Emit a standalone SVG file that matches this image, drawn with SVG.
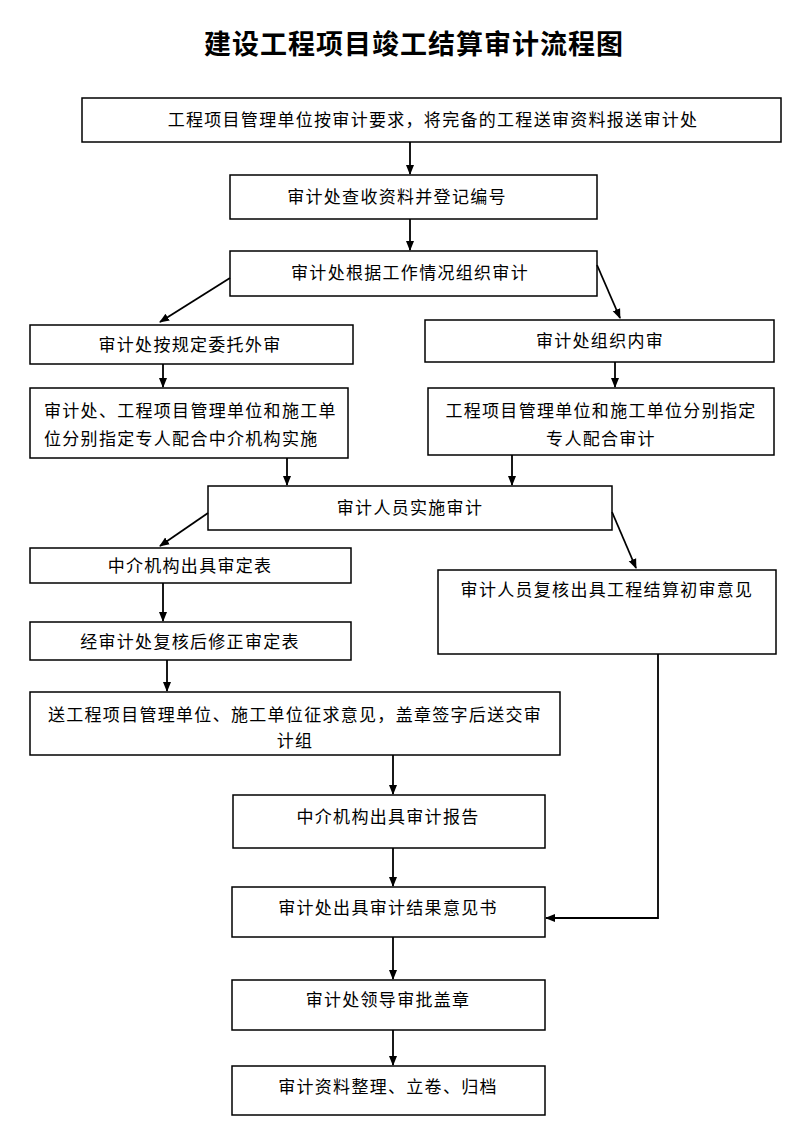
<svg xmlns="http://www.w3.org/2000/svg" width="800" height="1147" viewBox="0 0 800 1147">
<defs>
<marker id="ah" markerWidth="10" markerHeight="10" refX="9" refY="5" orient="auto" markerUnits="userSpaceOnUse"><path d="M0,1 L10,5 L0,9 z" fill="#000"/></marker>
<style>
rect{fill:#fff;stroke:#000;stroke-width:1.5}
text{font-family:"Noto Sans CJK SC",sans-serif;font-size:17px;letter-spacing:1.3px;fill:#000}
.c{text-anchor:middle}
.t{font-size:27px;font-weight:bold;letter-spacing:1px}
#connectors line,#connectors polyline{stroke:#000;stroke-width:1.8;fill:none;marker-end:url(#ah)}
</style>
</defs>
<rect x="0" y="0" width="800" height="1147" style="stroke:none"/>
<text class="c t" x="414" y="54">建设工程项目竣工结算审计流程图</text>
<g id="n1"><rect x="82" y="98" width="699" height="44"/><text class="c" x="433" y="126">工程项目管理单位按审计要求，将完备的工程送审资料报送审计处</text></g>
<g id="n2"><rect x="230" y="175" width="367" height="44"/><text class="c" x="397" y="203">审计处查收资料并登记编号</text></g>
<g id="n3"><rect x="230" y="251" width="367" height="45"/><text class="c" x="410" y="279">审计处根据工作情况组织审计</text></g>
<g id="n4"><rect x="30" y="325" width="323" height="39"/><text class="c" x="190" y="351">审计处按规定委托外审</text></g>
<g id="n5"><rect x="425" y="320" width="349" height="42"/><text class="c" x="600" y="347">审计处组织内审</text></g>
<g id="n6"><rect x="30" y="388" width="318" height="70"/><text x="44" y="417">审计处、工程项目管理单位和施工单</text><text x="44" y="445">位分别指定专人配合中介机构实施</text></g>
<g id="n7"><rect x="428" y="388" width="346" height="67"/><text class="c" x="601" y="417">工程项目管理单位和施工单位分别指定</text><text class="c" x="601" y="445">专人配合审计</text></g>
<g id="n8"><rect x="208" y="486" width="404" height="44"/><text class="c" x="410" y="514">审计人员实施审计</text></g>
<g id="n9"><rect x="30" y="548" width="321" height="35"/><text class="c" x="190" y="572">中介机构出具审定表</text></g>
<g id="n10"><rect x="438" y="570" width="338" height="84"/><text class="c" x="607" y="596">审计人员复核出具工程结算初审意见</text></g>
<g id="n11"><rect x="30" y="622" width="321" height="38"/><text class="c" x="190" y="648">经审计处复核后修正审定表</text></g>
<g id="n12"><rect x="30" y="692" width="530" height="63"/><text class="c" x="295" y="721">送工程项目管理单位、施工单位征求意见，盖章签字后送交审</text><text class="c" x="295" y="747">计组</text></g>
<g id="n13"><rect x="233" y="795" width="312" height="53"/><text class="c" x="388" y="823">中介机构出具审计报告</text></g>
<g id="n14"><rect x="232" y="887" width="313" height="50"/><text class="c" x="388" y="914">审计处出具审计结果意见书</text></g>
<g id="n15"><rect x="232" y="980" width="313" height="50"/><text class="c" x="388" y="1006">审计处领导审批盖章</text></g>
<g id="n16"><rect x="232" y="1066" width="313" height="49"/><text class="c" x="388" y="1093">审计资料整理、立卷、归档</text></g>
<g id="connectors">
<line x1="410" y1="142" x2="410" y2="174"/>
<line x1="410" y1="219" x2="410" y2="250"/>
<line x1="230" y1="278" x2="160" y2="322"/>
<line x1="597" y1="265" x2="620" y2="318"/>
<line x1="163" y1="364" x2="163" y2="387"/>
<line x1="615" y1="362" x2="615" y2="387"/>
<line x1="287" y1="458" x2="287" y2="485"/>
<line x1="512" y1="455" x2="512" y2="485"/>
<line x1="208" y1="513" x2="160" y2="546"/>
<line x1="612" y1="512" x2="636" y2="568"/>
<line x1="163" y1="583" x2="163" y2="621"/>
<line x1="167" y1="660" x2="167" y2="691"/>
<line x1="393" y1="755" x2="393" y2="794"/>
<line x1="393" y1="848" x2="393" y2="886"/>
<polyline points="658,654 658,918 546,918"/>
<line x1="393" y1="937" x2="393" y2="979"/>
<line x1="393" y1="1030" x2="393" y2="1065"/>
</g>
</svg>
